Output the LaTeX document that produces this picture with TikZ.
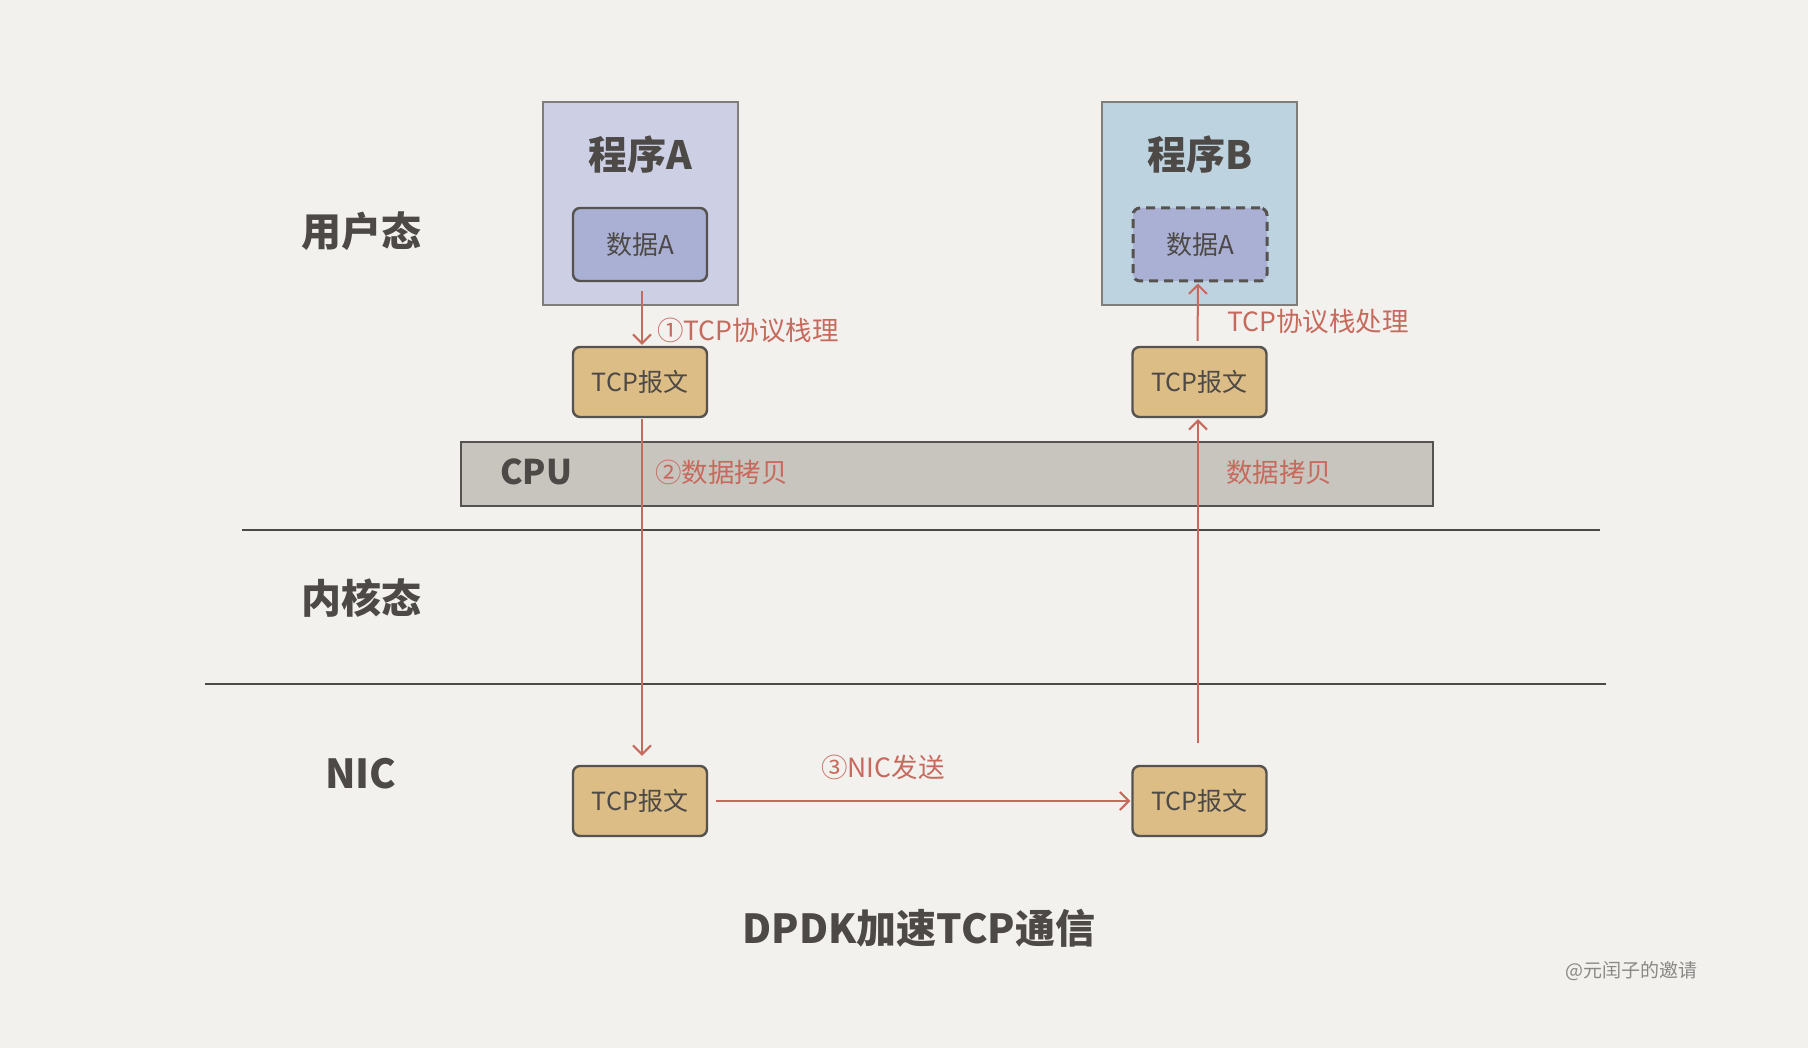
\documentclass[tikz,border=0pt]{standalone}
\usepackage{fontspec}
\setmainfont{Noto Sans CJK SC}
\usetikzlibrary{arrows.meta}
\definecolor{paper}{HTML}{F2F1EE}
\definecolor{ink}{HTML}{4D4946}
\definecolor{edge}{HTML}{55524F}
\definecolor{progAfill}{HTML}{CDD0E4}
\definecolor{progBfill}{HTML}{BED3E0}
\definecolor{datafill}{HTML}{AAB0D3}
\definecolor{pktfill}{HTML}{DCBD85}
\definecolor{cpufill}{HTML}{C8C4BE}
\definecolor{flow}{HTML}{C66A5D}
\definecolor{mark}{HTML}{8A8886}
\tikzset{
  progbox/.style={draw=edge!75, line width=1.8pt, minimum width=195pt, minimum height=203pt, inner sep=0pt},
  databox/.style={draw=edge, line width=2.4pt, rounded corners=7pt, fill=datafill, minimum width=134pt, minimum height=73pt, font=\fontsize{26}{28}\selectfont, text=ink},
  pktbox/.style={draw=edge, line width=2.4pt, rounded corners=7pt, fill=pktfill, minimum width=134pt, minimum height=70pt, font=\fontsize{25}{27}\selectfont, text=ink},
  flowarrow/.style={draw=flow, line width=2pt, -{Straight Barb[length=9pt,width=18pt,line width=2pt]}},
  flowlabel/.style={text=flow, font=\fontsize{26.5}{28}\selectfont, inner sep=0pt},
  layerlabel/.style={text=ink, font=\fontsize{40}{42}\selectfont\bfseries, inner sep=0pt},
  sepline/.style={draw=ink, line width=2.2pt}
}
\begin{document}
\begin{tikzpicture}[x=1pt, y=-1pt]
  % paper
  \fill[paper] (0,0) rectangle (1808,1048);
  \useasboundingbox (0,0) rectangle (1808,1048);

  % layer separators
  \coordinate (s1a) at (242,530);
  \coordinate (s1b) at (1600,530);
  \coordinate (s2a) at (205,684);
  \coordinate (s2b) at (1606,684);
  \draw[sepline] (s1a) -- (s1b);
  \draw[sepline] (s2a) -- (s2b);

  % layer names
  \node[layerlabel] (lu) at (361,231) {用户态};
  \node[layerlabel] (lk) at (361,598) {内核态};
  \node[layerlabel] (ln) at (361,774) {NIC};

  % CPU bar
  \node[draw=edge, line width=2.6pt, fill=cpufill, minimum width=972pt, minimum height=64pt, inner sep=0pt] (cpu) at (947,474) {};
  \node[text=ink, font=\fontsize{34}{36}\selectfont\bfseries, inner sep=0pt] (cpulbl) at (536,472) {CPU};

  % program A
  \node[progbox, fill=progAfill] (progA) at (640.5,203.5) {};
  \node[text=ink, font=\fontsize{39}{41}\selectfont\bfseries, inner sep=0pt] (progAt) at (640,155) {程序A};
  \node[databox] (dataA) at (640,244.5) {数据A};
  \node[pktbox] (pktA) at (640,382) {TCP报文};

  % program B
  \node[progbox, fill=progBfill] (progB) at (1199.5,203.5) {};
  \node[text=ink, font=\fontsize{39}{41}\selectfont\bfseries, inner sep=0pt] (progBt) at (1200,155) {程序B};
  \node[databox, dashed, dash pattern=on 9pt off 6pt, line width=3pt] (dataB) at (1200,244.5) {数据A};
  \node[pktbox] (pktB) at (1199.5,382) {TCP报文};

  % NIC packets
  \node[pktbox] (nicA) at (640,801) {TCP报文};
  \node[pktbox] (nicB) at (1199.5,801) {TCP报文};

  % data path
  \draw[flowarrow, shorten <=9pt, shorten >=1pt] ([xshift=2pt]dataA.south) -- ([xshift=2pt]pktA.north);
  \draw[flowarrow, shorten <=1pt, shorten >=9pt] ([xshift=2pt]pktA.south) -- ([xshift=2pt]nicA.north);
  \draw[flowarrow, line width=2.8pt, shorten <=8pt, shorten >=1pt] (nicA.east) -- (nicB.west);
  \draw[flowarrow, shorten <=22pt, shorten >=1pt] ([xshift=-1.5pt]nicB.north) -- ([xshift=-1.5pt]pktB.south);
  \draw[flowarrow, shorten <=5pt, shorten >=1pt] ([xshift=-2pt]pktB.north) -- ([xshift=-2pt]dataB.south);

  % step labels
  \node[flowlabel, anchor=west] (st1) at (657,330) {①TCP协议栈理};
  \node[flowlabel, anchor=west] (st2) at (655,472) {②数据拷贝};
  \node[flowlabel, anchor=west] (st3) at (821,767) {③NIC发送};
  \node[flowlabel, anchor=west] (rb1) at (1227,322) {TCP协议栈处理};
  \node[flowlabel, anchor=west] (rb2) at (1226,472) {数据拷贝};

  % caption and signature
  \node[text=ink, font=\fontsize{40}{42}\selectfont\bfseries, inner sep=0pt] (title) at (919,928) {DPDK加速TCP通信};
  \node[text=mark, font=\fontsize{19}{21}\selectfont, inner sep=0pt] (sig) at (1631,971) {@元闰子的邀请};
\end{tikzpicture}
\end{document}
